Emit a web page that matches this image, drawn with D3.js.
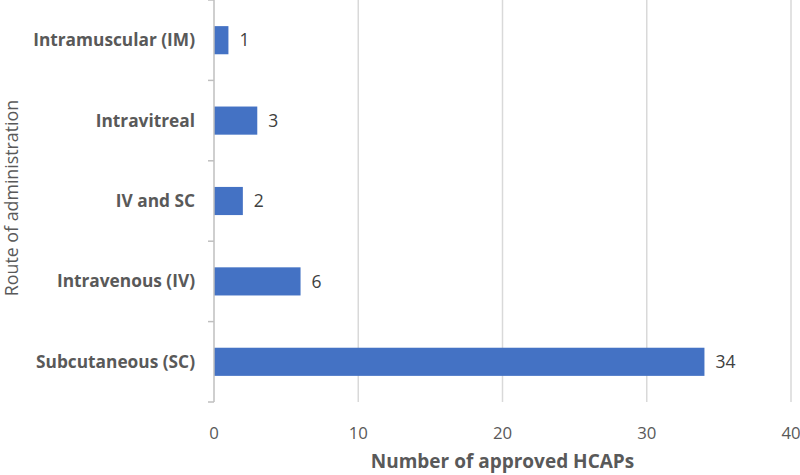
<!DOCTYPE html>
<html>
<head>
<meta charset="utf-8">
<script src="https://cdn.jsdelivr.net/npm/d3@7"></script>
<style>
  body { margin: 0; background: #fff; }
  svg { display: block; font-family: "Open Sans", "Noto Sans", sans-serif; }
</style>
</head>
<body>
<svg id="chart" width="800" height="475"></svg>
<script>
const routes = ["Intramuscular (IM)", "Intravitreal", "IV and SC", "Intravenous (IV)", "Subcutaneous (SC)"];
const counts = [1, 3, 2, 6, 34];
const xTicks = [0, 10, 20, 30, 40];

const data = routes.map((r, i) => ({ route: r, count: counts[i] }));

const width = 800, height = 475;
const margin = { top: 0, right: 9, bottom: 73, left: 214 };

const svg = d3.select("#chart");

const x = d3.scaleLinear()
  .domain([0, 40])
  .range([margin.left, width - margin.right]);

const y = d3.scaleBand()
  .domain(routes)
  .range([margin.top, height - margin.bottom])
  .paddingInner(0.65)
  .paddingOuter(0.325);

// vertical gridlines
svg.append("g")
  .selectAll("line")
  .data(xTicks.slice(1))
  .join("line")
  .attr("x1", d => x(d))
  .attr("x2", d => x(d))
  .attr("y1", margin.top)
  .attr("y2", height - margin.bottom)
  .attr("stroke", "#d9d9d9")
  .attr("stroke-width", 1.5);

// bars
svg.append("g")
  .selectAll("rect")
  .data(data)
  .join("rect")
  .attr("x", x(0))
  .attr("y", d => y(d.route))
  .attr("width", d => x(d.count) - x(0))
  .attr("height", y.bandwidth())
  .attr("fill", "#4472c4");

// value labels
svg.append("g")
  .selectAll("text")
  .data(data)
  .join("text")
  .attr("x", d => x(d.count) + 11)
  .attr("y", d => y(d.route) + y.bandwidth() / 2)
  .attr("dy", "0.35em")
  .attr("font-size", 17.5)
  .attr("fill", "#404040")
  .text(d => d.count);

// y axis line + category ticks
const yAxis = svg.append("g");
yAxis.append("line")
  .attr("x1", x(0)).attr("x2", x(0))
  .attr("y1", margin.top).attr("y2", height - margin.bottom)
  .attr("stroke", "#bfbfbf").attr("stroke-width", 1.5);

const bounds = routes.map(r => y(r) - y.step() * y.paddingInner() / 2)
  .concat([height - margin.bottom]);
yAxis.selectAll(".tk")
  .data(bounds)
  .join("line")
  .attr("class", "tk")
  .attr("x1", x(0) - 6).attr("x2", x(0))
  .attr("y1", d => d).attr("y2", d => d)
  .attr("stroke", "#bfbfbf").attr("stroke-width", 1.5);

yAxis.selectAll("text")
  .data(routes)
  .join("text")
  .attr("x", 195)
  .attr("y", d => y(d) + y.bandwidth() / 2)
  .attr("dy", "0.35em")
  .attr("text-anchor", "end")
  .attr("font-size", 17.3)
  .attr("font-weight", "bold")
  .attr("fill", "#595959")
  .text(d => d);

// x tick labels
svg.append("g")
  .selectAll("text")
  .data(xTicks)
  .join("text")
  .attr("x", d => x(d))
  .attr("y", 433)
  .attr("dy", "0.35em")
  .attr("text-anchor", "middle")
  .attr("font-size", 16.8)
  .attr("fill", "#595959")
  .text(d => d);

// axis titles
svg.append("text")
  .attr("x", (x(0) + x(40)) / 2)
  .attr("y", 461)
  .attr("dy", "0.35em")
  .attr("text-anchor", "middle")
  .attr("font-size", 19)
  .attr("font-weight", "bold")
  .attr("fill", "#595959")
  .text("Number of approved HCAPs");

svg.append("text")
  .attr("transform", "translate(12, 198) rotate(-90)")
  .attr("dy", "0.35em")
  .attr("text-anchor", "middle")
  .attr("font-size", 17.8)
  .attr("fill", "#595959")
  .text("Route of administration");
</script>
</body>
</html>
